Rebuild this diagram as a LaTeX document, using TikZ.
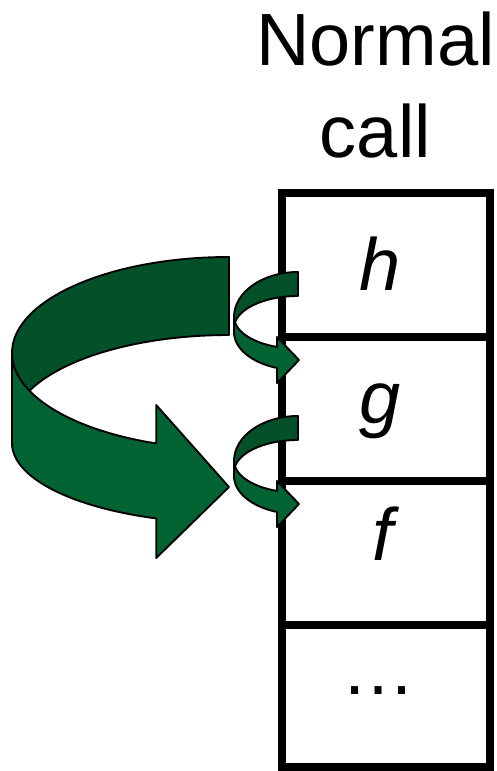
\documentclass[tikz,border=0pt]{standalone}
\usepackage{fontspec}
\setmainfont{Liberation Sans}
\definecolor{frontgreen}{RGB}{4,99,50}
\definecolor{backgreen}{RGB}{4,81,41}
\tikzset{
  cell/.style={draw=black,line width=8pt,minimum width=208pt,minimum height=144pt,inner sep=0pt,rectangle},
  lbl/.style={anchor=base,inner sep=0pt,font=\fontsize{74}{90}\selectfont},
  backpart/.style={fill=backgreen,draw=black,line width=1.9pt,line join=round},
  frontpart/.style={fill=frontgreen,draw=black,line width=1.9pt,line join=round},
  curlarrow/.pic={
    \path[backpart] (298,272) arc[start angle=270,end angle=180,x radius=64,y radius=45]
      -- (234,328) arc[start angle=180,end angle=270,x radius=64,y radius=32] -- cycle;
    \path[frontpart] (234,317) arc[start angle=180,end angle=109.15,x radius=64,y radius=31.7]
      -- (277,337) -- (299,360) -- (277,383) -- (277,368)
      arc[start angle=109.15,end angle=180,x radius=64,y radius=38.1] -- cycle;
  }
}
\begin{document}
\begin{tikzpicture}[x=1pt,y=-1pt]
\useasboundingbox (0,0) rectangle (497,771);
% stack cells
\node[cell] (cellh) at (386,265) {};
\node[cell] (cellg) at (386,409) {};
\node[cell] (cellf) at (386,553) {};
\node[cell,minimum height=142pt] (celldots) at (386,696) {};
% labels
\node[lbl] (title1) at (375.5,65) {Normal};
\node[lbl] (title2) at (375.5,157) {call};
\node[lbl] (lh) at (380,290) {\itshape h};
\node[lbl] (lg) at (380,423) {\itshape g};
\node[lbl] (lf) at (383,560) {\itshape f};
\node[lbl] (ldots) at (378,694) {…};
% big curved arrow
\path[backpart] (229,257) arc[start angle=270,end angle=180,x radius=217,y radius=96]
  -- (12,427) arc[start angle=180,end angle=270,x radius=217,y radius=92] -- cycle;
\path[frontpart] (12,353) arc[start angle=180,end angle=109.6,x radius=217,y radius=96]
  -- (156.2,405) -- (229,487) -- (156.2,558) -- (156.2,518.4)
  arc[start angle=109.6,end angle=180,x radius=217,y radius=80] -- cycle;
% small curved arrows
\pic at (0,0) {curlarrow};
\pic at (0,144) {curlarrow};
\end{tikzpicture}
\end{document}
